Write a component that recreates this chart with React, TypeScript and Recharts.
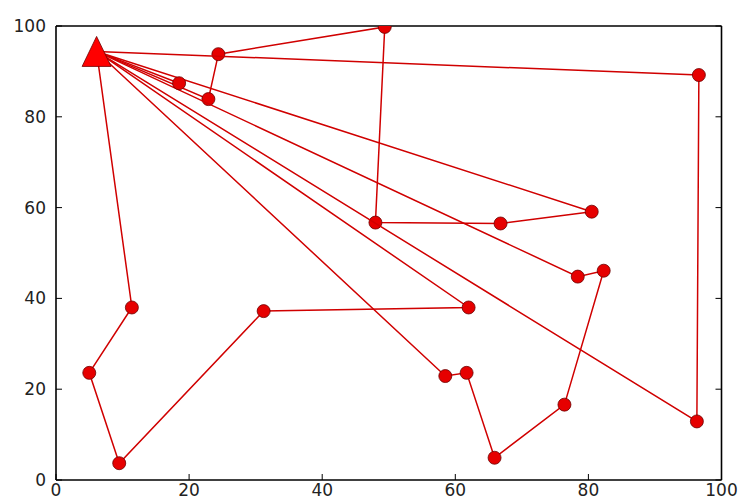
import { ScatterChart, Scatter, XAxis, YAxis } from "recharts"

// depot and the customer visits of each vehicle route, in visiting order
const depot = { x: 6.1, y: 94.4 }

const route1 = [
  { x: 22.9, y: 83.9 },
  { x: 24.4, y: 93.8 },
  { x: 49.4, y: 99.8 },
  { x: 48.0, y: 56.7 },
  { x: 66.8, y: 56.5 },
  { x: 80.5, y: 59.1 },
]
const route2 = [
  { x: 96.3, y: 12.9 },
  { x: 96.6, y: 89.2 },
]
const route3 = [
  { x: 11.4, y: 38.0 },
  { x: 5.0, y: 23.6 },
  { x: 9.5, y: 3.7 },
  { x: 31.2, y: 37.2 },
  { x: 62.0, y: 38.0 },
]
const route4 = [
  { x: 58.5, y: 22.9 },
  { x: 61.7, y: 23.6 },
  { x: 65.9, y: 4.9 },
  { x: 76.4, y: 16.6 },
  { x: 82.3, y: 46.1 },
  { x: 78.4, y: 44.8 },
]
const route5 = [{ x: 18.5, y: 87.4 }]

const routes = [route1, route2, route3, route4, route5]
const TICKS = [0, 20, 40, 60, 80, 100]

const LINE = "#d00000"
const tickStyle = { fill: "#222", fontSize: 17, fontFamily: "DejaVu Sans" }

const withDepot = (r: { x: number; y: number }[]) => [
  { ...depot, depot: true },
  ...r,
  { ...depot, depot: true },
]

const Dot = (props: any) => {
  const { cx, cy, payload } = props
  if (payload?.depot) return <g />
  return <circle cx={cx} cy={cy} r={6.5} fill="#e60000" stroke="#6b0000" strokeWidth={0.8} />
}

const Triangle = (props: any) => {
  const { cx, cy } = props
  return (
    <polygon
      points={`${cx},${cy - 15} ${cx - 14.5},${cy + 15} ${cx + 14.5},${cy + 15}`}
      fill="#ff0000"
      stroke="#6b0000"
      strokeWidth={0.8}
    />
  )
}

const Empty = () => <g />

export default function App() {
  return (
    <div style={{ position: "fixed", left: 0, top: 0, background: "#fff" }}>
      <ScatterChart width={739} height={504} margin={{ top: 25, right: 16.5, bottom: 0, left: 0 }}>
        <XAxis
          dataKey="x"
          type="number"
          domain={[0, 100]}
          ticks={TICKS}
          allowDataOverflow
          height={24}
          tickSize={-6}
          tickMargin={10}
          tick={tickStyle}
          axisLine={{ stroke: "#000", strokeWidth: 1.6 }}
          tickLine={{ stroke: "#000" }}
        />
        <XAxis
          xAxisId="top"
          orientation="top"
          type="number"
          domain={[0, 100]}
          ticks={TICKS}
          allowDataOverflow
          height={1}
          tickSize={-6}
          tick={Empty}
          axisLine={{ stroke: "#000", strokeWidth: 1.6 }}
          tickLine={{ stroke: "#000" }}
        />
        <YAxis
          dataKey="y"
          type="number"
          domain={[0, 100]}
          ticks={TICKS}
          allowDataOverflow
          width={56}
          tickSize={-6}
          tickMargin={16}
          tick={tickStyle}
          axisLine={{ stroke: "#000", strokeWidth: 1.6 }}
          tickLine={{ stroke: "#000" }}
        />
        <YAxis
          yAxisId="right"
          orientation="right"
          type="number"
          domain={[0, 100]}
          ticks={TICKS}
          allowDataOverflow
          width={1}
          tickSize={-6}
          tick={Empty}
          axisLine={{ stroke: "#000", strokeWidth: 1.6 }}
          tickLine={{ stroke: "#000" }}
        />
        {routes.map((r, i) => (
          <Scatter
            key={`route-${i}`}
            data={withDepot(r)}
            line={{ stroke: LINE, strokeWidth: 1.5 }}
            lineType="joint"
            shape={Dot}
            isAnimationActive={false}
          />
        ))}
        <Scatter data={[depot]} shape={Triangle} isAnimationActive={false} />
      </ScatterChart>
    </div>
  )
}
